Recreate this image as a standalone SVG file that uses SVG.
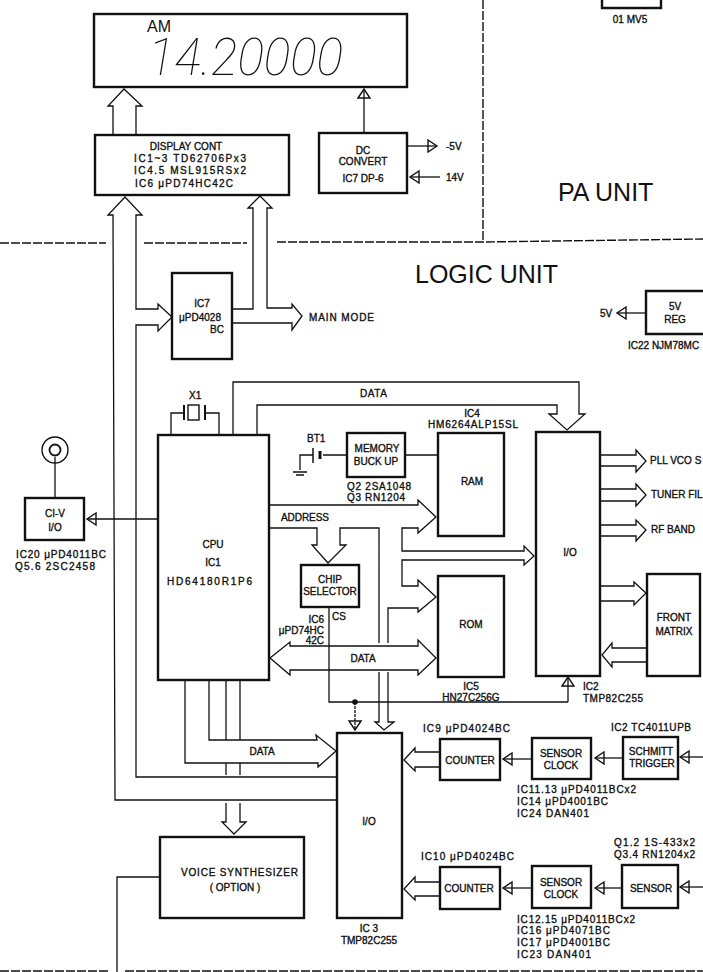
<svg xmlns="http://www.w3.org/2000/svg" width="703" height="972" viewBox="0 0 703 972">
<style>
text{font-family:"Liberation Sans",Arial,sans-serif;fill:#111;font-size:10px;stroke:#111;stroke-width:.35}
.m{text-anchor:middle}
.big{font-size:25px;stroke:none}
.b{fill:#fff;stroke:#111;stroke-width:2.4}
.c{fill:none;stroke:#111;stroke-width:1.3}
.d{fill:none;stroke:#111;stroke-width:1.4;stroke-dasharray:9 2}
</style>
<defs>
<marker id="tri" markerUnits="userSpaceOnUse" markerWidth="12" markerHeight="14" refX="10" refY="7" orient="auto" overflow="visible"><path d="M1,1 L10,7 L1,13 Z" fill="none" stroke="#111" stroke-width="1.4"/></marker>
</defs>
<g id="dashed">
<path class="d" d="M483,0 V240"/>
<path class="d" d="M0,243 H106 M144,243 H247 M277,242 H483 L703,239"/>
<path class="d" d="M0,971 H108 M125,971 H703"/>
</g>
<g id="connectors">
<polyline class="c" points="113,135 113,106 108,106 124,89 142,106 136,106 136,135"/>
<path class="c" marker-end="url(#tri)" d="M364,133 V89"/>
<path class="c" marker-end="url(#tri)" d="M407,146 H437"/>
<path class="c" marker-end="url(#tri)" d="M440,177 H410"/>
<polyline class="c" points="338,800 115,800 113,215 108,215 125,197 142,215 136,215 136,309 158,309 158,304 172,317 158,331 158,325 136,325 136,777 338,777"/>
<polyline class="c" points="232,309 253,309 253,208 248,208 260,196 272,208 267,208 267,308 292,308 292,304 302,316 292,330 292,323 232,323"/>
<path class="c" marker-end="url(#tri)" d="M646,313 H617"/>
<polyline class="c" points="171,435 171,413 183,413"/>
<polyline class="c" points="205,413 219,413 219,435"/>
<polyline class="c" points="233,435 233,382 579,382 579,414 585,414 567,430 549,414 557,414 557,405 257,405 257,435"/>
<polyline class="c" points="269,505 418,505 418,500 436,517 418,533 418,528 402,528 402,551 524,551 524,546 534,556 524,565 524,560 402,560 402,586 418,586 418,580 436,597 418,612 418,608 388,608 388,643"/>
<polyline class="c" points="388,672 388,722 394,722 384,730 375,722 379,722 379,672"/>
<polyline class="c" points="379,643 379,528 340,528 340,545 346,545 328,563 312,545 317,545 317,528 269,528"/>
<polygon class="c" points="290,646 418,646 418,640 436,658 418,675 418,670 290,670 290,675 270,658 290,642"/>
<path class="c" d="M329,607 V702 H568"/>
<path class="c" marker-end="url(#tri)" d="M568,702 V677"/>
<circle cx="355" cy="702" r="2.8" fill="#111"/>
<path class="c" marker-end="url(#tri)" d="M355,702 V730" stroke-dasharray="3 1"/>
<polyline class="c" points="185,680 185,763 318,763 318,767 336,751 316,735 317,740 209,740 209,680"/>
<path class="c" d="M226,680 V740 M240,680 V740 M226,763 V775 M240,763 V775"/>
<polyline class="c" points="226,803 226,822 222,822 234,834 246,822 240,822 240,803"/>
<polyline class="c" points="160,877 117,877 117,972"/>
<path class="c" d="M55,498 V457" stroke-width="1.8"/>
<path class="c" marker-end="url(#tri)" d="M158,519 H87" stroke-width="1.5"/>
<path class="c" d="M347,455 H323 M313,455 H300 V470 M293,472 H307 M296,475 H304 M405,455 H438"/>
<polyline class="c" points="600,455 636,455 636,450 646,461 636,472 636,466 600,466"/>
<polyline class="c" points="600,489 636,489 636,484 646,495 636,506 636,501 600,501"/>
<polyline class="c" points="600,525 636,525 636,520 646,530 636,541 636,536 600,536"/>
<polyline class="c" points="600,586 634,586 634,582 646,593 634,605 634,601 600,601"/>
<polyline class="c" points="647,648 612,648 612,643 602,655 612,667 612,662 647,662"/>
<polyline class="c" points="440,752 415,752 415,748 404,760 415,771 415,767 440,767"/>
<path class="c" marker-end="url(#tri)" d="M532,759 H503"/>
<path class="c" marker-end="url(#tri)" d="M623,758 H595"/>
<path class="c" marker-end="url(#tri)" d="M703,757 H680"/>
<polyline class="c" points="440,882 415,882 415,877 404,889 415,900 415,896 440,896"/>
<path class="c" marker-end="url(#tri)" d="M532,888 H503"/>
<path class="c" marker-end="url(#tri)" d="M622,888 H595"/>
<path class="c" marker-end="url(#tri)" d="M703,887 H680"/>
</g>
<g id="display">
<rect class="b" x="94" y="14" width="313" height="73"/>
<text x="147" y="32" style="font-size:16px;stroke:none">AM</text>
<text x="148" y="75" textLength="195" lengthAdjust="spacingAndGlyphs" style="font-family:Roboto,sans-serif;font-weight:100;font-style:italic;font-size:52px;stroke:none">14.20000</text>
</g>
<g id="display-cont">
<rect class="b" x="95" y="135" width="194" height="60"/>
<text class="m" x="186" y="150">DISPLAY CONT</text>
<text x="134" y="162" textLength="112">IC1~3  TD62706Px3</text>
<text x="134" y="174" textLength="112">IC4.5  MSL915RSx2</text>
<text x="135" y="187" textLength="98">IC6  μPD74HC42C</text>
</g>
<g id="dc-convert">
<rect class="b" x="319" y="133" width="88" height="60"/>
<text class="m" x="363" y="154">DC</text>
<text class="m" x="363" y="165">CONVERT</text>
<text class="m" x="363" y="182">IC7 DP-6</text>
<text x="446" y="150">-5V</text>
<text x="446" y="181">14V</text>
</g>
<g id="pa-unit">
<path class="b" d="M602,0 V8 H661 V0"/>
<text class="m" x="630" y="23">01 MV5</text>
<text class="big" x="558" y="201">PA UNIT</text>
</g>
<text class="big" x="415" y="283">LOGIC UNIT</text>
<g id="reg">
<path class="b" d="M703,291 H646 V334 H703"/>
<text class="m" x="675" y="310">5V</text>
<text class="m" x="675" y="323">REG</text>
<text x="628" y="349">IC22 NJM78MC</text>
<text x="600" y="317">5V</text>
</g>
<g id="ic7">
<rect class="b" x="172" y="273" width="60" height="86"/>
<text class="m" x="202" y="307">IC7</text>
<text class="m" x="200" y="321">μPD4028</text>
<text x="210" y="333">BC</text>
<text x="309" y="321" textLength="65">MAIN MODE</text>
</g>
<g id="ci-v">
<circle cx="55" cy="450" r="13" fill="none" stroke="#111" stroke-width="1.4"/>
<circle cx="55" cy="450" r="5.5" fill="none" stroke="#111" stroke-width="1.8"/>
<rect class="b" x="25" y="498" width="59" height="42"/>
<text class="m" x="55" y="517">CI-V</text>
<text class="m" x="55" y="531">I/O</text>
<text x="16" y="558" textLength="90">IC20  μPD4011BC</text>
<text x="15" y="570" textLength="80">Q5.6  2SC2458</text>
</g>
<g id="cpu">
<rect class="b" x="158" y="435" width="111" height="245"/>
<text x="189" y="399">X1</text>
<path d="M184,405 V420 M205,405 V420" stroke="#111" stroke-width="2" fill="none"/>
<rect x="188" y="405" width="11" height="15" fill="#fff" stroke="#111" stroke-width="1.4"/>
<text class="m" x="213" y="548">CPU</text>
<text class="m" x="213" y="566">IC1</text>
<text x="167" y="585" textLength="85">HD64180R1P6</text>
</g>
<g id="memory">
<rect class="b" x="347" y="433" width="58" height="44"/>
<text class="m" x="377" y="452">MEMORY</text>
<text class="m" x="376" y="465">BUCK UP</text>
<text x="347" y="490" textLength="64">Q2 2SA1048</text>
<text x="347" y="501" textLength="58">Q3 RN1204</text>
<text x="307" y="442">BT1</text>
<path d="M313,448 V463" stroke="#111" stroke-width="1.5"/>
<path d="M320,451 V459" stroke="#111" stroke-width="3"/>
</g>
<g id="ram">
<rect class="b" x="438" y="433" width="66" height="103"/>
<text class="m" x="472" y="417">IC4</text>
<text class="m" x="473" y="428" textLength="90">HM6264ALP15SL</text>
<text class="m" x="472" y="485">RAM</text>
</g>
<g id="io-ic2">
<rect class="b" x="536" y="432" width="64" height="244"/>
<text class="m" x="570" y="556">I/O</text>
<text x="583" y="690">IC2</text>
<text x="583" y="702" textLength="60">TMP82C255</text>
</g>
<text x="650" y="464">PLL VCO S</text>
<text x="651" y="498">TUNER FIL</text>
<text x="651" y="533">RF BAND</text>
<text x="360" y="397" textLength="27">DATA</text>
<text x="281" y="521" textLength="48">ADDRESS</text>
<g id="chip-selector">
<rect class="b" x="301" y="565" width="58" height="42"/>
<text class="m" x="330" y="583">CHIP</text>
<text class="m" x="330" y="595">SELECTOR</text>
<text x="332" y="620">CS</text>
<text x="324" y="623" style="text-anchor:end">IC6</text>
<text x="324" y="634" style="text-anchor:end">μPD74HC</text>
<text x="324" y="644" style="text-anchor:end">42C</text>
</g>
<text class="m" x="363" y="662">DATA</text>
<g id="rom">
<rect class="b" x="438" y="576" width="66" height="101"/>
<text class="m" x="471" y="628">ROM</text>
<text class="m" x="471" y="690">IC5</text>
<text class="m" x="471" y="701">HN27C256G</text>
</g>
<g id="front-matrix">
<rect class="b" x="647" y="574" width="53" height="102"/>
<text class="m" x="674" y="621">FRONT</text>
<text class="m" x="674" y="635">MATRIX</text>
</g>
<text class="m" x="262" y="755">DATA</text>
<g id="io-ic3">
<rect class="b" x="337" y="733" width="65" height="185"/>
<text class="m" x="369" y="825">I/O</text>
<text class="m" x="369" y="932">IC 3</text>
<text class="m" x="369" y="944">TMP82C255</text>
</g>
<g id="voice">
<rect class="b" x="160" y="837" width="144" height="81"/>
<text x="181" y="876" textLength="117">VOICE SYNTHESIZER</text>
<text class="m" x="235" y="891">( OPTION )</text>
</g>
<g id="counter1">
<rect class="b" x="440" y="739" width="60" height="41"/>
<text class="m" x="470" y="764">COUNTER</text>
<text x="423" y="732" textLength="87">IC9  μPD4024BC</text>
</g>
<g id="clock1">
<rect class="b" x="532" y="738" width="59" height="41"/>
<text class="m" x="561" y="757">SENSOR</text>
<text class="m" x="561" y="769">CLOCK</text>
<text x="517" y="793" textLength="119">IC11.13  μPD4011BCx2</text>
<text x="517" y="805" textLength="91">IC14  μPD4001BC</text>
<text x="517" y="817" textLength="72">IC24  DAN401</text>
</g>
<g id="schmitt">
<rect class="b" x="623" y="737" width="55" height="42"/>
<text class="m" x="651" y="755">SCHMITT</text>
<text class="m" x="652" y="767">TRIGGER</text>
<text x="611" y="731" textLength="80">IC2  TC4011UPB</text>
</g>
<g id="counter2">
<rect class="b" x="440" y="867" width="60" height="42"/>
<text class="m" x="469" y="892">COUNTER</text>
<text x="421" y="860" textLength="93">IC10  μPD4024BC</text>
</g>
<g id="clock2">
<rect class="b" x="532" y="866" width="59" height="42"/>
<text class="m" x="561" y="886">SENSOR</text>
<text class="m" x="561" y="898">CLOCK</text>
<text x="517" y="923" textLength="118">IC12.15  μPD4011BCx2</text>
<text x="517" y="934" textLength="93">IC16   μPD4071BC</text>
<text x="517" y="946" textLength="93">IC17   μPD4001BC</text>
<text x="517" y="958" textLength="74">IC23   DAN401</text>
</g>
<g id="sensor">
<rect class="b" x="622" y="865" width="56" height="43"/>
<text class="m" x="651" y="892">SENSOR</text>
<text x="614" y="846" textLength="81">Q1.2  1S-433x2</text>
<text x="614" y="858" textLength="81">Q3.4  RN1204x2</text>
</g>
</svg>
